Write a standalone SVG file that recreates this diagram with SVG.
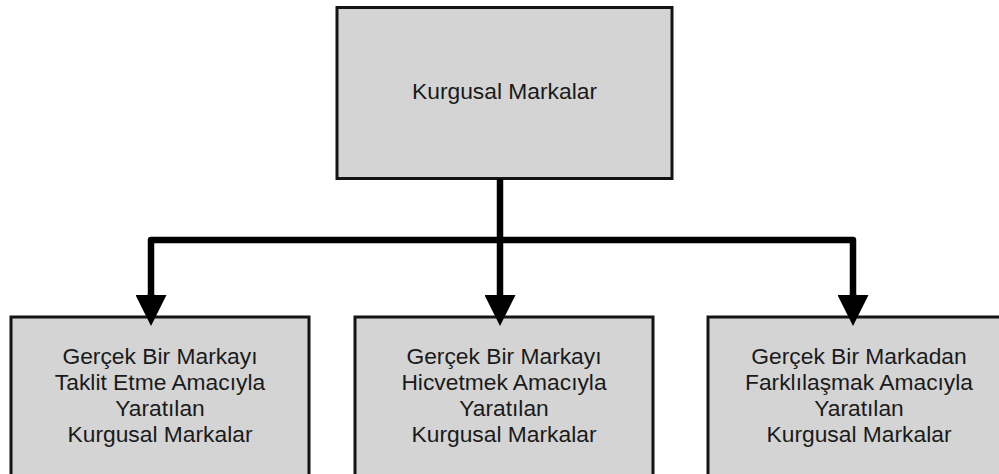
<svg xmlns="http://www.w3.org/2000/svg" width="999" height="474" viewBox="0 0 999 474">
<style>
.box{fill:#d4d4d4;stroke:#141414;stroke-width:3}
.t{font-family:"Liberation Sans",Arial,sans-serif;font-size:22.8px;fill:#1a1a1a;text-anchor:middle}
.c{fill:none;stroke:#000;stroke-width:6.5;stroke-linejoin:round}
</style>
<defs>
<marker id="ah" markerUnits="userSpaceOnUse" viewBox="0 0 31 31" markerWidth="31" markerHeight="31" refX="0" refY="15.5" orient="auto">
<path d="M0,0 L31,15.5 L0,31 Z" fill="#000"/>
</marker>
</defs>
<rect width="999" height="474" fill="#fff"/>
<g id="top">
<rect class="box" x="337" y="7.5" width="335" height="171"/>
<text class="t" x="504.5" y="99">Kurgusal Markalar</text>
</g>
<g id="left">
<rect class="box" x="11" y="317" width="298" height="160"/>
<text class="t" x="160" y="364">Gerçek Bir Markayı</text>
<text class="t" x="160" y="390">Taklit Etme Amacıyla</text>
<text class="t" x="160" y="416">Yaratılan</text>
<text class="t" x="160" y="442">Kurgusal Markalar</text>
</g>
<g id="middle">
<rect class="box" x="355" y="317" width="298" height="160"/>
<text class="t" x="504" y="364">Gerçek Bir Markayı</text>
<text class="t" x="504" y="390">Hicvetmek Amacıyla</text>
<text class="t" x="504" y="416">Yaratılan</text>
<text class="t" x="504" y="442">Kurgusal Markalar</text>
</g>
<g id="right">
<rect class="box" x="708" y="317" width="302" height="160"/>
<text class="t" x="859" y="364">Gerçek Bir Markadan</text>
<text class="t" x="859" y="390">Farklılaşmak Amacıyla</text>
<text class="t" x="859" y="416">Yaratılan</text>
<text class="t" x="859" y="442">Kurgusal Markalar</text>
</g>
<g id="connectors">
<path class="c" d="M500,179 V295" marker-end="url(#ah)"/>
<path class="c" d="M151,295 V240 H853 V295"/>
<path class="c" d="M151,294 V295" marker-end="url(#ah)"/>
<path class="c" d="M853,294 V295" marker-end="url(#ah)"/>
</g>
</svg>
